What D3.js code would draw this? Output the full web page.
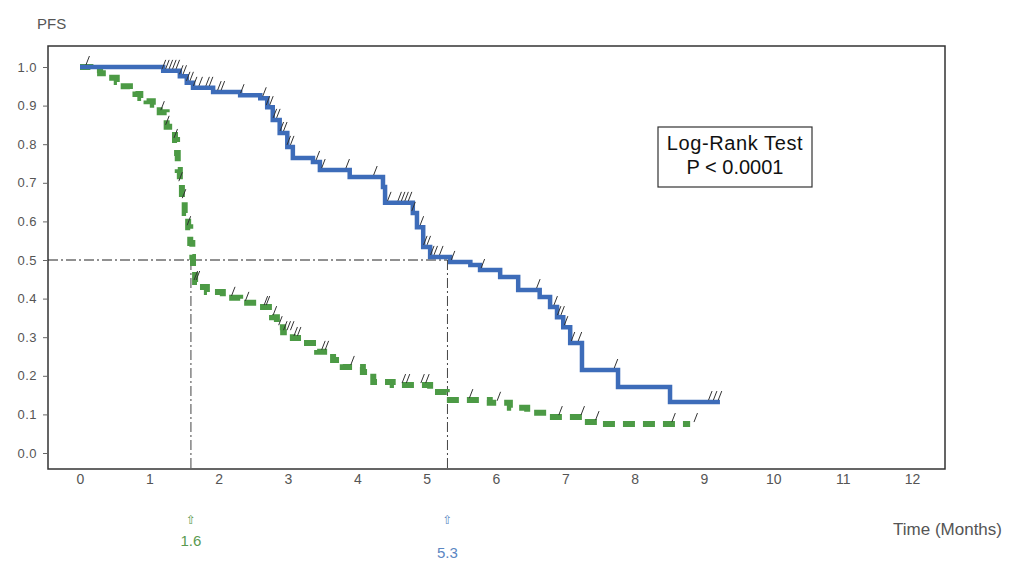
<!DOCTYPE html>
<html>
<head>
<meta charset="utf-8">
<script src="https://cdn.jsdelivr.net/npm/d3@7"></script>
<style>
  body { margin: 0; background: #fff; }
  svg { display: block; }
  .tick-label { font-family: "Liberation Sans", Arial, sans-serif; }
</style>
</head>
<body>
<div id="chart"></div>
<script>
// ---- data ----
var xTicks = [0, 1, 2, 3, 4, 5, 6, 7, 8, 9, 10, 11, 12];
var yTicks = [0, 0.1, 0.2, 0.3, 0.4, 0.5, 0.6, 0.7, 0.8, 0.9, 1.0];

// blue arm (median 5.3)
var blueTimes = [0, 1.20, 1.44, 1.54, 1.63, 1.92, 2.31, 2.60, 2.70, 2.78, 2.88, 2.99, 3.07, 3.36, 3.46, 3.89, 4.37, 4.40, 4.80, 4.86, 4.95, 5.05, 5.34, 5.63, 5.77, 6.06, 6.32, 6.63, 6.78, 6.88, 6.97, 7.07, 7.24, 7.76, 8.51, 9.23];
var blueSurv  = [1.0, 0.99, 0.976, 0.959, 0.946, 0.935, 0.927, 0.919, 0.896, 0.863, 0.829, 0.793, 0.764, 0.754, 0.733, 0.715, 0.689, 0.648, 0.622, 0.585, 0.534, 0.508, 0.495, 0.487, 0.474, 0.456, 0.422, 0.404, 0.378, 0.352, 0.326, 0.285, 0.215, 0.171, 0.132, 0.132];
var blueCensor = [0.1, 1.2, 1.25, 1.3, 1.35, 1.4, 1.45, 1.5, 1.55, 1.6, 1.65, 1.73, 1.83, 1.88, 2.0, 2.05, 2.33,
  2.65, 2.7, 2.75, 2.8, 2.85, 2.9, 2.95, 3.0, 3.05, 3.42, 3.5, 3.85, 4.25, 4.45, 4.6, 4.65, 4.7, 4.75, 4.8,
  4.92, 4.97, 5.02, 5.07, 5.12, 5.2, 5.37, 5.8, 6.6, 6.85, 6.9, 6.95, 7.0, 7.1, 7.2, 7.72, 9.08, 9.15, 9.22];

// green arm (median 1.6)
var greenTimes = [0, 0.15, 0.29, 0.42, 0.53, 0.63, 0.72, 0.80, 0.87, 0.96, 1.05, 1.15, 1.25, 1.37, 1.40, 1.41, 1.44, 1.47, 1.51, 1.56, 1.59, 1.62, 1.63, 1.66, 1.73, 1.83, 2.06, 2.31, 2.64, 2.77, 2.84, 2.93, 3.07, 3.22, 3.42, 3.65, 3.79, 4.08, 4.23, 4.51, 5.05, 5.29, 5.91, 6.20, 6.45, 6.68, 7.26, 7.50, 8.80];
var greenSurv  = [1.0, 0.992, 0.984, 0.972, 0.961, 0.950, 0.940, 0.930, 0.920, 0.911, 0.902, 0.883, 0.845, 0.811, 0.777, 0.733, 0.699, 0.655, 0.622, 0.585, 0.544, 0.508, 0.474, 0.443, 0.430, 0.417, 0.402, 0.389, 0.378, 0.352, 0.326, 0.313, 0.298, 0.285, 0.262, 0.241, 0.223, 0.210, 0.184, 0.176, 0.158, 0.137, 0.130, 0.117, 0.104, 0.093, 0.080, 0.075, 0.075];
var greenCensor = [1.18, 1.25, 1.37, 1.44, 1.49, 1.56, 1.66, 1.69, 2.2, 2.4, 2.67, 2.7, 2.8, 2.88, 2.95, 3.0, 3.05, 3.1, 3.15,
  3.5, 3.55, 3.92, 4.66, 4.72, 4.93, 5.0, 5.63, 6.03, 6.92, 7.24, 7.45, 8.55, 8.87];

var medians = [
  { t: 1.6, label: "1.6", color: "#5a9a50", labelY: 546 },
  { t: 5.3, label: "5.3", color: "#5b86c2", labelY: 558 }
];

// ---- layout ----
var width = 1010, height = 565;
var frame = { left: 48, right: 945, top: 46, bottom: 469 };

var svg = d3.select("#chart").append("svg")
    .attr("width", width)
    .attr("height", height);

var x = d3.scaleLinear().domain([0, 12]).range([80, 912]);
var y = d3.scaleLinear().domain([0, 1]).range([453, 67]);

// frame
svg.append("rect")
    .attr("x", frame.left)
    .attr("y", frame.top)
    .attr("width", frame.right - frame.left)
    .attr("height", frame.bottom - frame.top)
    .attr("fill", "none")
    .attr("stroke", "#333")
    .attr("stroke-width", 1.5);

// y axis: outward ticks on the frame
var yAxis = svg.append("g")
    .attr("transform", "translate(" + frame.left + ",0)")
    .call(d3.axisLeft(y).tickValues(yTicks).tickSize(5).tickPadding(6).tickFormat(d3.format(".1f")));
yAxis.select(".domain").remove();
yAxis.selectAll("line").attr("stroke", "#666");
yAxis.selectAll("text")
    .attr("class", "tick-label")
    .style("font-size", "13px")
    .style("letter-spacing", "0.5px")
    .style("fill", "#555");

// x axis labels (no tick marks)
var xAxis = svg.append("g")
    .attr("transform", "translate(0," + frame.bottom + ")")
    .call(d3.axisBottom(x).tickValues(xTicks).tickSize(0).tickPadding(5).tickFormat(d3.format("d")));
xAxis.select(".domain").remove();
xAxis.selectAll("text")
    .attr("class", "tick-label")
    .style("font-size", "14px")
    .style("fill", "#555");

svg.append("text")
    .attr("x", 37).attr("y", 29)
    .attr("class", "tick-label")
    .style("font-size", "15px")
    .style("fill", "#555")
    .text("PFS");

svg.append("text")
    .attr("x", 1002).attr("y", 535)
    .attr("class", "tick-label")
    .attr("text-anchor", "end")
    .style("font-size", "17px")
    .style("fill", "#555")
    .text("Time (Months)");

// median reference lines (dash-dot)
var dashDot = "10,3,2,3";
svg.append("line")
    .attr("x1", frame.left).attr("x2", x(5.3))
    .attr("y1", y(0.5)).attr("y2", y(0.5))
    .attr("stroke", "#222").attr("stroke-width", 1)
    .attr("stroke-dasharray", dashDot);

medians.forEach(function (m) {
    svg.append("line")
        .attr("x1", x(m.t)).attr("x2", x(m.t))
        .attr("y1", y(0.5)).attr("y2", frame.bottom)
        .attr("stroke", "#444").attr("stroke-width", 1)
        .attr("stroke-dasharray", dashDot);
    svg.append("text")
        .attr("x", x(m.t)).attr("y", 524)
        .attr("text-anchor", "middle")
        .style("font-family", "DejaVu Sans, sans-serif")
        .style("font-size", "12px")
        .style("fill", m.color)
        .text("\u21E7");
    svg.append("text")
        .attr("x", x(m.t)).attr("y", m.labelY)
        .attr("class", "tick-label")
        .attr("text-anchor", "middle")
        .style("font-size", "15px")
        .style("fill", m.color)
        .text(m.label);
});

// survival curves
var line = d3.line()
    .curve(d3.curveStepAfter)
    .x(function (d) { return x(d[0]); })
    .y(function (d) { return y(d[1]); });

var greenData = d3.zip(greenTimes, greenSurv);
var blueData = d3.zip(blueTimes, blueSurv);

svg.append("path")
    .datum(greenData)
    .attr("d", line)
    .attr("fill", "none")
    .attr("stroke", "#4c9a45")
    .attr("stroke-width", 6)
    .attr("stroke-dasharray", "12,8");

svg.append("path")
    .datum(blueData)
    .attr("d", line)
    .attr("fill", "none")
    .attr("stroke", "#3d6cb9")
    .attr("stroke-width", 4.5);

// censor marks
var survAt = function (times, surv, t) {
    var i = d3.bisectRight(times, t) - 1;
    return surv[Math.max(0, i)];
};

var drawCensor = function (times, surv, cens) {
    svg.append("g")
        .selectAll("line")
        .data(cens)
        .enter()
        .append("line")
        .attr("x1", function (t) { return x(t) - 1; })
        .attr("y1", function (t) { return y(survAt(times, surv, t)) - 2; })
        .attr("x2", function (t) { return x(t) + 2.5; })
        .attr("y2", function (t) { return y(survAt(times, surv, t)) - 11; })
        .attr("stroke", "#333")
        .attr("stroke-width", 1);
};
drawCensor(greenTimes, greenSurv, greenCensor);
drawCensor(blueTimes, blueSurv, blueCensor);

// log-rank box
var box = svg.append("g");
box.append("rect")
    .attr("x", 658).attr("y", 127)
    .attr("width", 154).attr("height", 60)
    .attr("fill", "#fff")
    .attr("stroke", "#333")
    .attr("stroke-width", 1.2);
box.append("text")
    .attr("x", 735).attr("y", 150)
    .attr("text-anchor", "middle")
    .style("font-family", "Liberation Sans, Arial, sans-serif")
    .style("font-size", "20px")
    .style("letter-spacing", "0.6px")
    .style("fill", "#111")
    .text("Log-Rank Test");
box.append("text")
    .attr("x", 735).attr("y", 174)
    .attr("text-anchor", "middle")
    .style("font-family", "Liberation Sans, Arial, sans-serif")
    .style("font-size", "20px")
    .style("fill", "#111")
    .text("P < 0.0001");
</script>
</body>
</html>
